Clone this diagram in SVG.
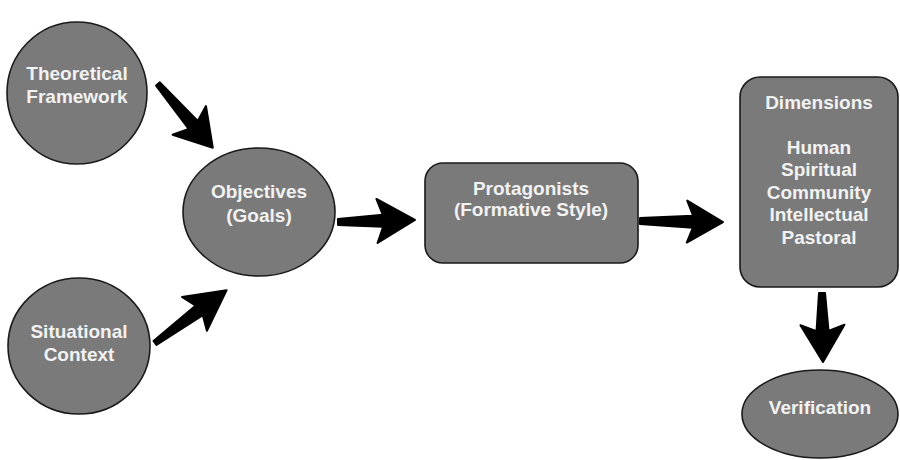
<svg xmlns="http://www.w3.org/2000/svg" width="900" height="460" viewBox="0 0 900 460">
<style>
.node{fill:#7a7a7a;stroke:#1a1a1a;stroke-width:1.6}
.lbl{font-family:"Liberation Sans",Arial,Helvetica,sans-serif;font-weight:bold;font-size:19px;fill:#f2f2f2;text-anchor:middle}
.arrow{fill:#000;stroke:#000;stroke-width:2;stroke-linejoin:round}
</style>
<rect width="900" height="460" fill="#fff"/>
<g id="connectors">
<path class="arrow" transform="translate(158,84) rotate(49.3)" d="M0,-2.5 L54,-6 L48,-22 L84,0 L48,22 L54,6 L0,2.5 Z"/>
<path class="arrow" transform="translate(155,343) rotate(-36.4)" d="M0,-2.5 L55,-6 L49,-21 L89,0 L49,21 L55,6 L0,2.5 Z"/>
<path class="arrow" transform="translate(338,222) rotate(-1.5)" d="M0,-3 L45,-6 L39,-22 L77,0 L39,22 L45,6 L0,3 Z"/>
<path class="arrow" transform="translate(640,221) rotate(0.7)" d="M0,-3 L53,-6 L47,-21 L83,0 L47,21 L53,6 L0,3 Z"/>
<path class="arrow" transform="translate(822,293) rotate(89.2)" d="M0,-3 L38,-6 L32,-22 L69,0 L32,22 L38,6 L0,3 Z"/>
</g>
<g id="theoretical">
<ellipse class="node" cx="77" cy="93" rx="70" ry="71"/>
<text class="lbl" x="77" y="80">Theoretical</text>
<text class="lbl" x="77" y="103">Framework</text>
</g>
<g id="situational">
<ellipse class="node" cx="79" cy="346" rx="71" ry="68"/>
<text class="lbl" x="79" y="338">Situational</text>
<text class="lbl" x="79" y="361">Context</text>
</g>
<g id="objectives">
<ellipse class="node" cx="259" cy="212" rx="76" ry="64"/>
<text class="lbl" x="259" y="198">Objectives</text>
<text class="lbl" x="259" y="222">(Goals)</text>
</g>
<g id="protagonists">
<rect class="node" x="425" y="163" width="213" height="100" rx="18"/>
<text class="lbl" x="531" y="195">Protagonists</text>
<text class="lbl" x="531" y="216">(Formative Style)</text>
</g>
<g id="dimensions">
<rect class="node" x="740" y="77" width="158" height="210" rx="20"/>
<text class="lbl" x="819" y="109">Dimensions</text>
<text class="lbl" x="819" y="154">Human</text>
<text class="lbl" x="819" y="176">Spiritual</text>
<text class="lbl" x="819" y="199">Community</text>
<text class="lbl" x="819" y="221">Intellectual</text>
<text class="lbl" x="819" y="244">Pastoral</text>
</g>
<g id="verification">
<ellipse class="node" cx="820" cy="414" rx="78" ry="44"/>
<text class="lbl" x="820" y="414">Verification</text>
</g>
</svg>
